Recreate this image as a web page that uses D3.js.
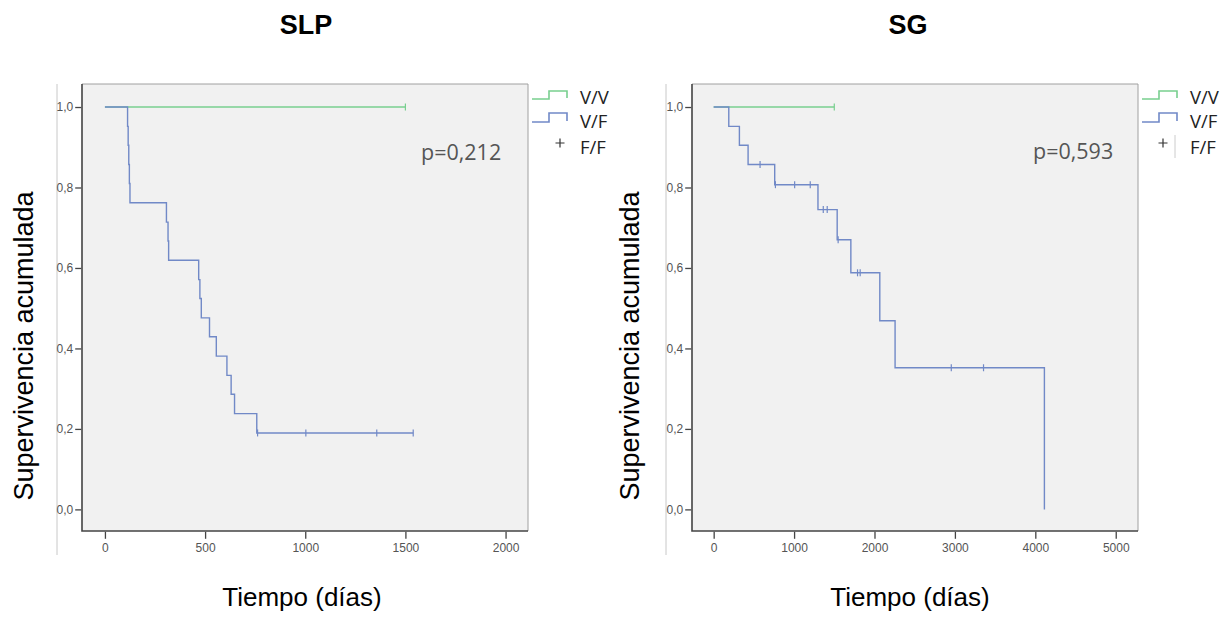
<!DOCTYPE html>
<html>
<head>
<meta charset="utf-8">
<script src="https://cdn.jsdelivr.net/npm/d3@7"></script>
<style>
body { margin: 0; background: #fff; }
</style>
</head>
<body>
<script>
// ---- data ----
const yTicks = [0, 0.2, 0.4, 0.6, 0.8, 1.0];
const legendLabels = ["V/V", "V/F", "F/F"];

// SLP
const slpXTicks = [0, 500, 1000, 1500, 2000];
const slpVVEnd = 1500;
const slpVVCensor = [1500];
const slpVFTimes = [113, 116, 119, 122, 125, 307, 315, 318, 468, 474, 481, 522, 556, 609, 630, 647, 758];
const slpVFSurv = [0.952, 0.905, 0.857, 0.810, 0.762, 0.714, 0.667, 0.619, 0.571, 0.524, 0.476, 0.429, 0.381, 0.333, 0.286, 0.238, 0.190];
const slpVFCensor = [762, 1003, 1357, 1539];
const slpVFEnd = 1539;
const slpP = "p=0,212";

// SG
const sgXTicks = [0, 1000, 2000, 3000, 4000, 5000];
const sgVVEnd = 1500;
const sgVVCensor = [1500];
const sgVFTimes = [188, 320, 428, 759, 1297, 1536, 1706, 2066, 2256, 4113];
const sgVFSurv = [0.952, 0.905, 0.857, 0.807, 0.745, 0.670, 0.588, 0.469, 0.352, 0.0];
const sgVFCensor = [577, 768, 1007, 1201, 1363, 1412, 1548, 1789, 1822, 2955, 3356];
const sgVFEnd = 4113;
const sgP = "p=0,593";

const green = "#78cf8f";
const blue = "#7189c7";

const panels = [
    {
        title: "SLP", xTicks: slpXTicks, p: slpP,
        vvEnd: slpVVEnd, vvCensor: slpVVCensor,
        vfTimes: slpVFTimes, vfSurv: slpVFSurv, vfCensor: slpVFCensor, vfEnd: slpVFEnd,
        left: 82, right: 528, xDomain: [-114.5, 2112],
        outer: 57, legendX: 532, plusX: 560, pX: 421, pY: 160, titleX: 306, xLabelX: 302, yLabelX: 33
    },
    {
        title: "SG", xTicks: sgXTicks, p: sgP,
        vvEnd: sgVVEnd, vvCensor: sgVVCensor,
        vfTimes: sgVFTimes, vfSurv: sgVFSurv, vfCensor: sgVFCensor, vfEnd: sgVFEnd,
        left: 692, right: 1138, xDomain: [-269.5, 5277],
        outer: 666, legendX: 1142, plusX: 1163, pX: 1033, pY: 159, titleX: 908, xLabelX: 910, yLabelX: 639, legendRule: 1175
    }
];

const plotTop = 84, plotBottom = 531;
const svg = d3.select(document.body).append("svg")
    .attr("width", 1231)
    .attr("height", 617)
    .style("font-family", "'Liberation Sans', Arial, sans-serif");

const stepPoints = function (times, surv, end) {
    const pts = [[0, 1]];
    let prev = 1;
    times.forEach((t, i) => {
        pts.push([t, prev]);
        pts.push([t, surv[i]]);
        prev = surv[i];
    });
    if (end > times[times.length - 1]) pts.push([end, prev]);
    return pts;
};

const survAt = function (times, surv, t) {
    let s = 1;
    times.forEach((tt, i) => { if (tt <= t) s = surv[i]; });
    return s;
};

panels.forEach(p => {
    const x = d3.scaleLinear().domain(p.xDomain).range([p.left, p.right]);
    const y = d3.scaleLinear().domain([-0.0537, 1.0572]).range([plotBottom, plotTop]);
    const g = svg.append("g");

    // faint outer border from the original export
    g.append("line")
        .attr("x1", p.outer).attr("x2", p.outer)
        .attr("y1", plotTop).attr("y2", 555)
        .attr("stroke", "#c8c8c8").attr("stroke-width", 1);

    g.append("rect")
        .attr("x", p.left).attr("y", plotTop)
        .attr("width", p.right - p.left).attr("height", plotBottom - plotTop)
        .attr("fill", "#f1f1f1");
    g.append("path")
        .attr("d", `M${p.left},${plotTop}H${p.right}V${plotBottom}`)
        .attr("fill", "none").attr("stroke", "#a0a0a0").attr("stroke-width", 1);
    g.append("path")
        .attr("d", `M${p.left},${plotTop}V${plotBottom}H${p.right}`)
        .attr("fill", "none").attr("stroke", "#444").attr("stroke-width", 1.6);

    // axes
    const fmt = d => d3.format(".1f")(d).replace(".", ",");
    const ya = g.append("g")
        .attr("transform", `translate(${p.left - 0.8},0)`)
        .call(d3.axisLeft(y).tickValues(yTicks).tickFormat(fmt).tickSize(6).tickPadding(2));
    const xa = g.append("g")
        .attr("transform", `translate(0,${plotBottom + 0.8})`)
        .call(d3.axisBottom(x).tickValues(p.xTicks).tickFormat(d3.format("d")).tickSize(7).tickPadding(5));
    [ya, xa].forEach(a => {
        a.select(".domain").remove();
        a.selectAll(".tick line").attr("stroke", "#444").attr("stroke-width", 1.3);
        a.selectAll(".tick text")
            .attr("fill", "#555")
            .style("font-size", "12px")
            .style("font-family", "'Liberation Sans', Arial, sans-serif");
    });

    const line = d3.line().x(d => x(d[0])).y(d => y(d[1]));

    // V/V curve
    g.append("path")
        .attr("d", line([[0, 1], [p.vvEnd, 1]]))
        .attr("fill", "none").attr("stroke", green).attr("stroke-width", 1.4);
    g.selectAll(".cvv").data(p.vvCensor).enter().append("line")
        .attr("x1", d => x(d)).attr("x2", d => x(d))
        .attr("y1", y(1) - 3.5).attr("y2", y(1) + 3.5)
        .attr("stroke", green).attr("stroke-width", 1.2);

    // V/F curve
    g.append("path")
        .attr("d", line(stepPoints(p.vfTimes, p.vfSurv, p.vfEnd)))
        .attr("fill", "none").attr("stroke", blue).attr("stroke-width", 1.4);
    g.selectAll(".cvf").data(p.vfCensor).enter().append("line")
        .attr("x1", d => x(d)).attr("x2", d => x(d))
        .attr("y1", d => y(survAt(p.vfTimes, p.vfSurv, d)) - 3.5)
        .attr("y2", d => y(survAt(p.vfTimes, p.vfSurv, d)) + 3.5)
        .attr("stroke", blue).attr("stroke-width", 1.2);

    // p-value
    g.append("text")
        .attr("x", p.pX).attr("y", p.pY)
        .attr("fill", "#555")
        .style("font-family", "'Open Sans', sans-serif")
        .style("font-size", "21.5px")
        .text(p.p);

    // legend
    const lx = p.legendX;
    const icon = (yLow, yHigh, color) => g.append("path")
        .attr("d", `M${lx},${yLow}H${lx + 17}V${yHigh}H${lx + 35}V${yLow - 1}`)
        .attr("fill", "none").attr("stroke", color).attr("stroke-width", 1.6);
    icon(99, 91, green);
    icon(122, 113, blue);
    g.append("path")
        .attr("d", `M${p.plusX - 4.5},143H${p.plusX + 4.5}M${p.plusX},138.5V147.5`)
        .attr("fill", "none").attr("stroke", "#333").attr("stroke-width", 1.2);
    if (p.legendRule) {
        g.append("line")
            .attr("x1", p.legendRule).attr("x2", p.legendRule)
            .attr("y1", 135).attr("y2", 158)
            .attr("stroke", "#ccc");
    }
    const lyBase = [104, 128, 154];
    legendLabels.forEach((lab, i) => {
        g.append("text")
            .attr("x", lx + 48).attr("y", lyBase[i])
            .attr("fill", "#222")
            .style("font-family", "'Open Sans', sans-serif")
            .style("font-size", "18.5px")
            .text(lab);
    });

    // titles and axis labels
    g.append("text")
        .attr("x", p.titleX).attr("y", 34)
        .attr("text-anchor", "middle")
        .style("font-size", "27px").style("font-weight", "bold")
        .text(p.title);
    g.append("text")
        .attr("x", p.xLabelX).attr("y", 606)
        .attr("text-anchor", "middle")
        .style("font-size", "26px")
        .text("Tiempo (días)");
    g.append("text")
        .attr("transform", `translate(${p.yLabelX},346) rotate(-90)`)
        .attr("text-anchor", "middle")
        .style("font-size", "27px")
        .text("Supervivencia acumulada");
});
</script>
</body>
</html>
